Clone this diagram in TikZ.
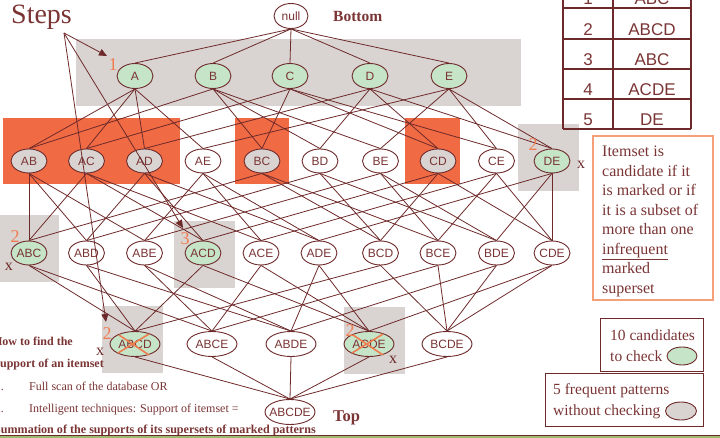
\documentclass[tikz,border=0pt]{standalone}
\usepackage{fontspec}
\setmainfont{Liberation Serif}
\newfontfamily\lsans{Liberation Sans}
\usetikzlibrary{shapes.geometric,arrows.meta}
\definecolor{linecol}{RGB}{110,42,42}
\definecolor{textcol}{RGB}{122,52,52}
\definecolor{orangebox}{RGB}{240,106,68}
\definecolor{grayfill}{RGB}{217,212,210}
\definecolor{greenfill}{RGB}{197,228,200}
\definecolor{orangetxt}{RGB}{240,125,80}
\definecolor{orangeline}{RGB}{245,160,120}
\definecolor{greenbar}{RGB}{155,187,110}
\begin{document}
\begin{tikzpicture}[x=1pt,y=-1pt,
  item/.style={ellipse,draw=linecol,line width=0.9pt,fill=white,minimum width=36pt,
    minimum height=24pt,inner sep=0pt,text=textcol,font=\lsans\fontsize{12}{12}\selectfont},
  wide/.style={item,minimum width=50pt,minimum height=25pt},
  cand/.style={fill=greenfill},
  freq/.style={fill=grayfill},
  edge/.style={draw=linecol,line width=0.8pt},
  steparrow/.style={draw=linecol,line width=0.8pt,-{Triangle[length=8pt,width=7pt]}},
  steplbl/.style={text=orangetxt,font=\fontsize{18}{18}\selectfont,inner sep=0pt},
  xmark/.style={text=linecol,font=\fontsize{16}{16}\selectfont,inner sep=0pt},
  crossline/.style={draw=orangetxt,line width=1.6pt},
  tbl/.style={draw=linecol,line width=1.2pt},
  tbltxt/.style={anchor=base,inner sep=0pt,text=textcol,font=\lsans\fontsize{17}{17}\selectfont},
  serif/.style={inner sep=0pt,text=textcol},
  lbox/.style={draw=linecol,line width=1pt}]
\useasboundingbox (0,0) rectangle (720,438);

% shaded backgrounds
\fill[grayfill] (76,39) rectangle (521,106);
\fill[orangebox] (3,118) rectangle (180,184);
\fill[orangebox] (235,118) rectangle (289,184);
\fill[orangebox] (405,118) rectangle (460,184);
\fill[grayfill] (518,124) rectangle (579,191);
\fill[grayfill] (0,215) rectangle (59,282);
\fill[grayfill] (174,221) rectangle (235,288);
\fill[grayfill] (102,306) rectangle (163,373);
\fill[grayfill] (344,307) rectangle (405,374);

% lattice nodes
\node[item,minimum width=34pt,minimum height=25pt] (null) at (291,16) {\makebox[0pt]{null}};
\foreach \n/\x in {A/135,B/213,C/290,D/370,E/449}
  \node[item,cand,minimum height=25pt] (\n) at (\x,76) {\makebox[0pt]{\n}};
\foreach \n/\x/\s in {AB/29/freq,AC/86.5/freq,AD/144.5/freq,AE/203/item,BC/262/freq,
    BD/320/item,BE/380.5/item,CD/438/freq,CE/496.5/item,DE/552/cand}
  \node[item,\s] (\n) at (\x,161) {\makebox[0pt]{\n}};
\foreach \n/\x/\s in {ABC/29/cand,ABD/86.5/item,ABE/144.5/item,ACD/203/cand,ACE/261/item,
    ADE/319/item,BCD/380.5/item,BCE/438/item,BDE/496.5/item,CDE/552/item}
  \node[item,\s] (\n) at (\x,253) {\makebox[0pt]{\n}};
\foreach \n/\x/\s in {ABCD/135/cand,ABCE/212/wide,ABDE/291/wide,ACDE/369/cand,BCDE/447/wide}
  \node[wide,\s] (\n) at (\x,344) {\makebox[0pt]{\n}};
\node[wide] (ABCDE) at (290,412) {\makebox[0pt]{ABCDE}};

% lattice connectors
\foreach \c in {A,B,C,D,E} \draw[edge] (null.south) -- (\c.north);
\foreach \c/\ps in {AB/{A,B},AC/{A,C},AD/{A,D},AE/{A,E},BC/{B,C},BD/{B,D},BE/{B,E},
    CD/{C,D},CE/{C,E},DE/{D,E},
    ABC/{AB,AC,BC},ABD/{AB,AD,BD},ABE/{AB,AE,BE},ACD/{AC,AD,CD},ACE/{AC,AE,CE},
    ADE/{AD,AE,DE},BCD/{BC,BD,CD},BCE/{BC,BE,CE},BDE/{BD,BE,DE},CDE/{CD,CE,DE},
    ABCD/{ABC,ABD,ACD,BCD},ABCE/{ABC,ABE,ACE,BCE},ABDE/{ABD,ABE,ADE,BDE},
    ACDE/{ACD,ACE,ADE,CDE},BCDE/{BCD,BCE,BDE,CDE},
    ABCDE/{ABCD,ABCE,ABDE,ACDE,BCDE}}
  {\foreach \p in \ps {\draw[edge] (\p.south) -- (\c.north);}}

% pruned candidates
\foreach \n in {ABCD,ACDE} {
  \draw[crossline] ([shift={(-17,9)}]\n.center) -- ([shift={(14,-10)}]\n.center);
  \draw[crossline] ([shift={(-16,-9)}]\n.center) -- ([shift={(14,11)}]\n.center);
}

% step numbers and marks
\node[steplbl] (l1) at (113,65) {1};
\node[steplbl] (l2a) at (533,145) {2};
\node[steplbl] (l2b) at (15,237) {2};
\node[steplbl] (l3) at (185,239) {3};
\node[steplbl] (l2c) at (107,334) {2};
\node[steplbl] (l2d) at (350,331) {2};
\node[xmark] (x1) at (581,165) {x};
\node[xmark] (x2) at (9,267) {x};
\node[xmark] (x3) at (100,352) {x};
\node[xmark] (x4) at (393,360) {x};

% steps pointer
\node[serif,anchor=base west,font=\fontsize{28}{28}\selectfont] (steps) at (11,24) {Steps};
\coordinate (sfrom) at (64,33);
\coordinate (s1) at (107,56);
\coordinate (s2) at (106,322);
\coordinate (s3) at (183,228);
\foreach \t in {s1,s2,s3} \draw[steparrow] (sfrom) -- (\t);

\node[serif,anchor=base west,font=\bfseries\fontsize{15.5}{15.5}\selectfont] (bottom) at (333,22) {Bottom};
\node[serif,anchor=base west,font=\bfseries\fontsize{16.5}{16.5}\selectfont] (top) at (333,421) {Top};

% transaction table
\draw[tbl] (563,-25) -- (563,129);
\draw[tbl] (613,-25) -- (613,129);
\draw[tbl] (691,-25) -- (691,129);
\foreach \y in {8,39,69,99,129} \draw[tbl] (563,\y) -- (691,\y);
\foreach \k/\s/\y in {1/ABC/5,2/ABCD/36,3/ABC/66,4/ACDE/96,5/DE/126} {
  \node[tbltxt] (tid\k) at (588,\y) {\k};
  \node[tbltxt] (tset\k) at (652,\y) {\s};
}

% candidate rule (anchored at the baseline of its last line)
\draw[draw=orangeline,line width=1.2pt] (593,136) rectangle (713,300);
\node[serif,anchor=base west,align=left,font=\fontsize{16}{19.5}\selectfont] (rule) at (602,293.5)
  {Itemset is\\candidate if it\\is marked or if\\it is a subset of\\more than one\\\underline{infrequent}\\marked\\superset};

% legend
\draw[lbox] (600,318) rectangle (703,371);
\node[serif,anchor=base west,align=left,font=\fontsize{15.5}{20.5}\selectfont] (leg1) at (610,361)
  {10 candidates\\to check};
\node[ellipse,draw=linecol,line width=0.9pt,fill=greenfill,minimum width=30pt,minimum height=18pt,inner sep=0pt] (leg1e) at (682,356) {};
\draw[lbox] (545,373) rectangle (703,426);
\node[serif,anchor=base west,align=left,font=\fontsize{15.5}{20.5}\selectfont] (leg2) at (553,415)
  {5 frequent patterns\\without checking};
\node[ellipse,draw=linecol,line width=0.9pt,fill=grayfill,minimum width=31pt,minimum height=18pt,inner sep=0pt] (leg2e) at (681,411) {};

% support notes
\node[serif,anchor=base east,font=\bfseries\fontsize{12}{12}\selectfont] (h1) at (73,345) {How to find the};
\node[serif,anchor=base east,font=\bfseries\fontsize{12}{12}\selectfont] (h2) at (104,367) {Support of an itemset};
\node[serif,anchor=base east,font=\fontsize{12}{12}\selectfont] (n1) at (4,390) {1.};
\node[serif,anchor=base west,font=\fontsize{12}{12}\selectfont] (t1) at (29,390) {Full scan of the database OR};
\node[serif,anchor=base east,font=\fontsize{12}{12}\selectfont] (n2) at (4,412) {2.};
\node[serif,anchor=base west,font=\fontsize{12}{12}\selectfont] (t2) at (29,412) {Intelligent techniques: Support of itemset =};
\node[serif,anchor=base east,font=\bfseries\fontsize{12.1}{12.1}\selectfont] (h3) at (316,433)
  {\underline{Summation of the supports of its supersets of marked patterns}};

% footer band
\fill[greenbar] (0,435) rectangle (720,440);
\draw[linecol,line width=0.8pt] (0,435) -- (720,435);
\end{tikzpicture}
\end{document}
